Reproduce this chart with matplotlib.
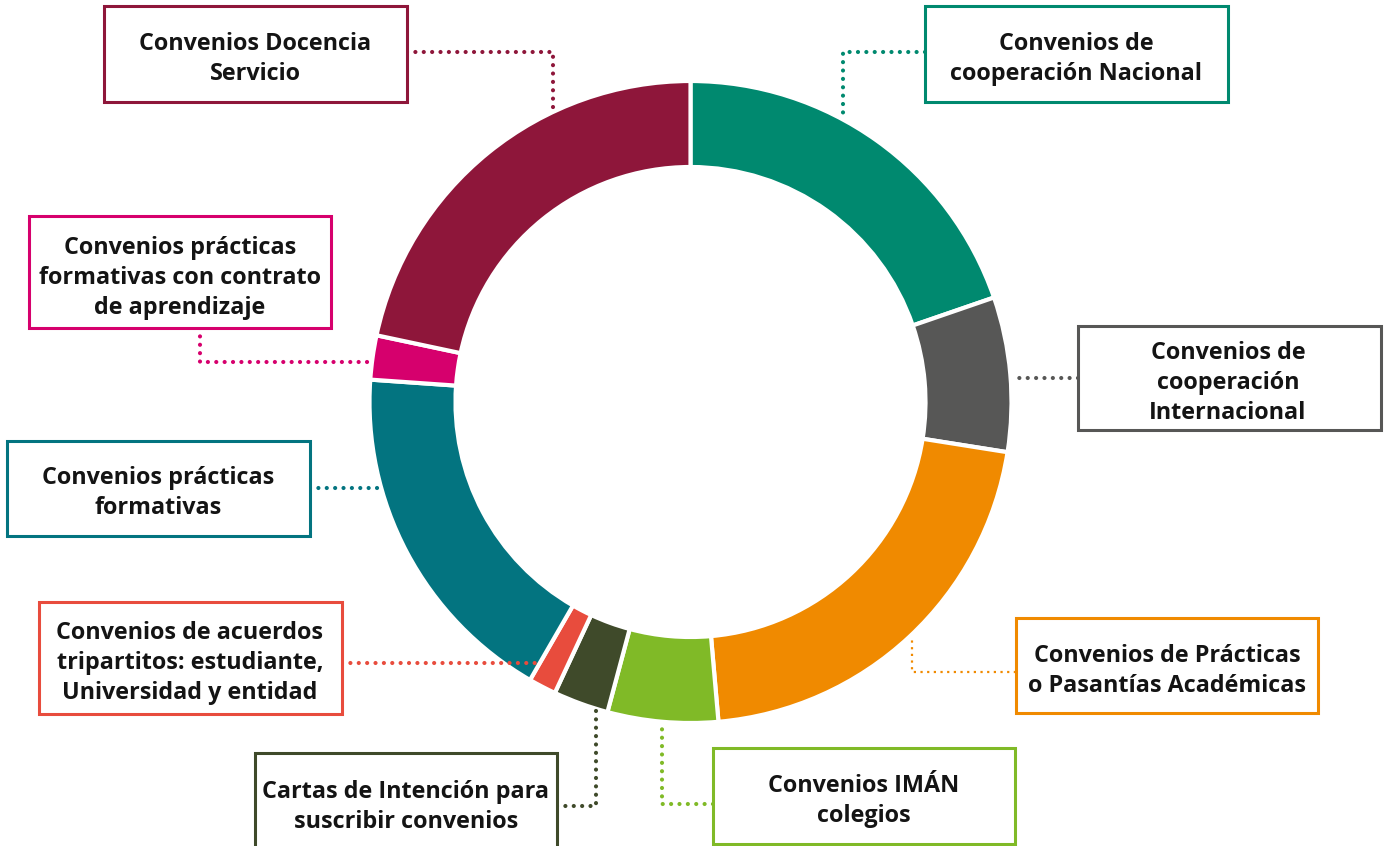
import matplotlib
matplotlib.use("Agg")
import matplotlib.pyplot as plt
from matplotlib.patches import Rectangle

labels = [
    "Convenios de\ncooperación Nacional",
    "Convenios de\ncooperación\nInternacional",
    "Convenios de Prácticas\no Pasantías Académicas",
    "Convenios IMÁN\ncolegios",
    "Cartas de Intención para\nsuscribir convenios",
    "Convenios de acuerdos\ntripartitos: estudiante,\nUniversidad y entidad",
    "Convenios prácticas\nformativas",
    "Convenios prácticas\nformativas con contrato\nde aprendizaje",
    "Convenios Docencia\nServicio",
]
values = [71, 28, 76, 20, 10, 5, 64, 8, 78]
colors = ["#00896F", "#575756", "#F08A00", "#80BA27", "#3F4A2A",
          "#E84C3D", "#037480", "#D6006D", "#8E163A"]

W, H = 1385, 846
fig = plt.figure(figsize=(W / 100, H / 100), dpi=100)
ax = fig.add_axes([0, 0, 1, 1])

def P(x, y):
    return x, H - y

cx, cy = P(690.5, 402)
ax.pie(values, colors=colors, startangle=90, counterclock=False,
       center=(cx, cy), radius=321, frame=True,
       wedgeprops=dict(width=86, edgecolor="white", linewidth=3))
ax.set_xlim(0, W)
ax.set_ylim(0, H)
ax.set_aspect("equal")
ax.axis("off")

# box: (x0, y0, x1, y1) in pixel coords from top-left, text center
boxes = [
    ((925, 6, 1228, 102), (1076, 58)),
    ((1078, 326, 1381, 430), (1228, 382)),
    ((1016, 618, 1318, 713), (1167, 670)),
    ((713, 748, 1015, 844), (864, 800)),
    ((255, 753, 557, 860), (406, 806)),
    ((39, 602, 342, 714), (190, 662)),
    ((7, 441, 310, 536), (158, 492)),
    ((29, 216, 331, 328), (180, 277)),
    ((104, 6, 407, 102), (255, 58)),
]
links = [
    [(925, 52), (843, 52), (843, 116)],
    [(1078, 378), (1013, 378)],
    [(1016, 672), (912, 672), (912, 636)],
    [(713, 804), (662, 804), (662, 722)],
    [(557, 806), (596, 806), (596, 710)],
    [(342, 663), (540, 663)],
    [(310, 488), (382, 488)],
    [(200, 328), (200, 362), (372, 362)],
    [(407, 52), (553, 52), (553, 115)],
]

for i, lab in enumerate(labels):
    (x0, y0, x1, y1), (tx, ty) = boxes[i]
    c = colors[i]
    ax.add_patch(Rectangle(P(x0, y1), x1 - x0, y1 - y0, fill=True,
                           facecolor="white", edgecolor=c, linewidth=2.2,
                           zorder=3))
    ax.text(*P(tx, ty + 1), lab, ha="center", va="center", fontsize=16.8,
            fontweight="bold", family="Open Sans", color="#141414",
            linespacing=1.33, zorder=4)
    xs = [p[0] for p in links[i]]
    ys = [H - p[1] for p in links[i]]
    if i == 2:
        ax.plot(xs, ys, color=c, lw=1.6, linestyle=(0, (1, 2)), zorder=2)
    else:
        ax.plot(xs, ys, color=c, lw=3.0, linestyle=(0, (0.01, 2.0)),
                dash_capstyle="round", zorder=2)

fig.savefig("out.png", dpi=100)
